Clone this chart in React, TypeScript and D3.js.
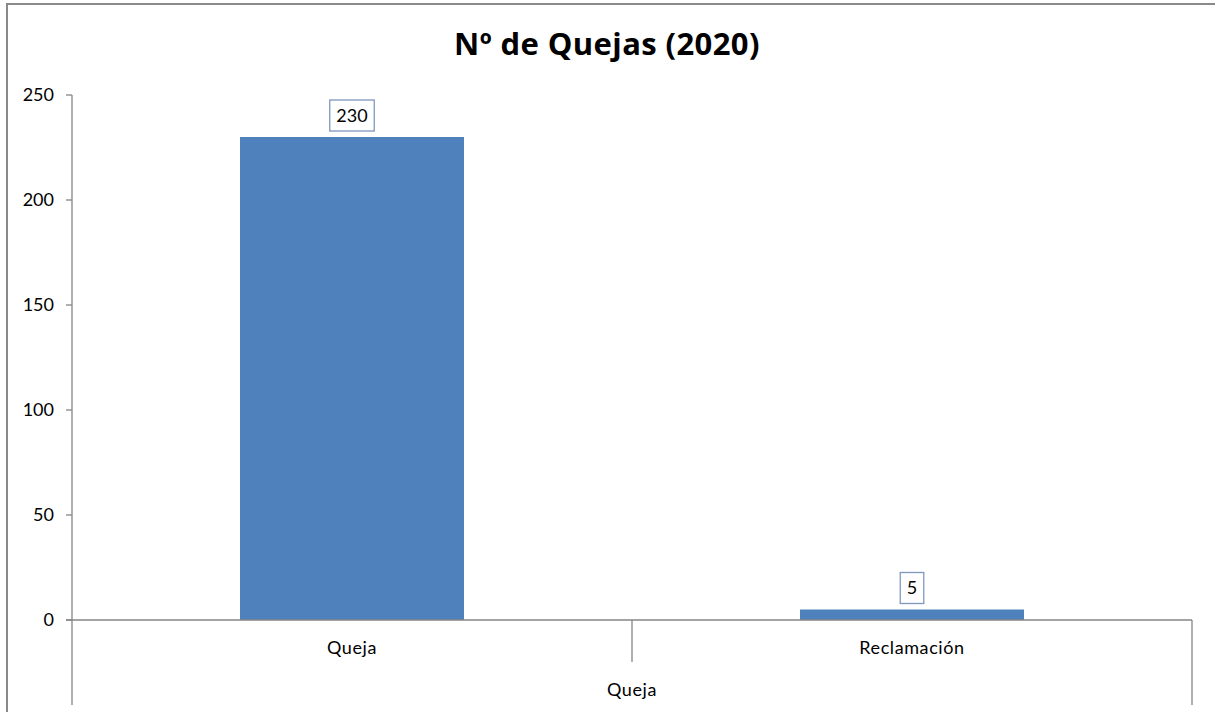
import React from "react";
import * as d3 from "d3";

const categories = ["Queja", "Reclamación"];
const values = [230, 5];
const yTicks = [0, 50, 100, 150, 200, 250];
const groupLabel = "Queja";
const title = "Nº de Quejas (2020)";

const W = 1215;
const H = 712;
const plot = { left: 72, right: 1192, top: 95, bottom: 620 };
const FONT = "Lato, 'Open Sans', sans-serif";
const AXIS = "#868686";

export default function App() {
  const x = d3
    .scaleBand<string>()
    .domain(categories)
    .range([plot.left, plot.right])
    .paddingInner(0)
    .paddingOuter(0);
  const y = d3.scaleLinear().domain([0, 250]).range([plot.bottom, plot.top]);
  const barW = x.bandwidth() / 2.5;

  return (
    <svg
      width={W}
      height={H}
      style={{ position: "absolute", left: 0, top: 0, background: "#fff" }}
    >
      <rect x={7} y={4} width={1220} height={720} fill="#fff" stroke="#8a8a8a" strokeWidth={2} />
      <text
        x={607}
        y={55}
        textAnchor="middle"
        fontFamily="'Open Sans', sans-serif"
        fontWeight={700}
        fontSize={31}
        letterSpacing={0.4}
        fill="#000"
      >
        {title}
      </text>

      {/* bars */}
      {categories.map((c, i) => {
        const cx = (x(c) as number) + x.bandwidth() / 2;
        return (
          <rect
            key={c}
            x={cx - barW / 2}
            y={y(values[i])}
            width={barW}
            height={y(0) - y(values[i])}
            fill="#4F81BD"
          />
        );
      })}

      {/* y axis */}
      <line x1={plot.left} x2={plot.left} y1={plot.top} y2={705} stroke={AXIS} strokeWidth={1.3} />
      {yTicks.map((t) => (
        <g key={t}>
          <line x1={plot.left - 6} x2={plot.left} y1={y(t)} y2={y(t)} stroke={AXIS} strokeWidth={1.3} />
          <text
            x={54}
            y={y(t)}
            dy="0.35em"
            textAnchor="end"
            fontFamily={FONT}
            fontSize={18}
            fill="#000"
          >
            {t}
          </text>
        </g>
      ))}

      {/* x axis */}
      <line x1={plot.left - 6} x2={plot.right} y1={plot.bottom} y2={plot.bottom} stroke={AXIS} strokeWidth={1.3} />
      <line
        x1={x(categories[1]) as number}
        x2={x(categories[1]) as number}
        y1={plot.bottom}
        y2={662}
        stroke={AXIS}
        strokeWidth={1.3}
      />
      <line x1={plot.right} x2={plot.right} y1={plot.bottom} y2={705} stroke={AXIS} strokeWidth={1.3} />
      {categories.map((c) => (
        <text
          key={c}
          x={(x(c) as number) + x.bandwidth() / 2}
          y={648}
          dy="0.35em"
          textAnchor="middle"
          fontFamily={FONT}
          fontSize={18}
          letterSpacing={0.6}
          fill="#000"
        >
          {c}
        </text>
      ))}
      <text
        x={(plot.left + plot.right) / 2}
        y={690}
        dy="0.35em"
        textAnchor="middle"
        fontFamily={FONT}
        fontSize={18}
        letterSpacing={0.6}
        fill="#000"
      >
        {groupLabel}
      </text>

      {/* data labels */}
      {categories.map((c, i) => {
        const cx = (x(c) as number) + x.bandwidth() / 2;
        const label = String(values[i]);
        const bw = label.length * 10.5 + 13;
        const bottom = y(values[i]) - 6;
        const bh = 31;
        return (
          <g key={"l" + c}>
            <rect
              x={cx - bw / 2}
              y={bottom - bh}
              width={bw}
              height={bh}
              fill="#fff"
              stroke="#7F97BF"
              strokeWidth={1.3}
            />
            <text
              x={cx}
              y={bottom - bh / 2}
              dy="0.35em"
              textAnchor="middle"
              fontFamily={FONT}
              fontSize={18}
              fill="#000"
            >
              {label}
            </text>
          </g>
        );
      })}
    </svg>
  );
}
